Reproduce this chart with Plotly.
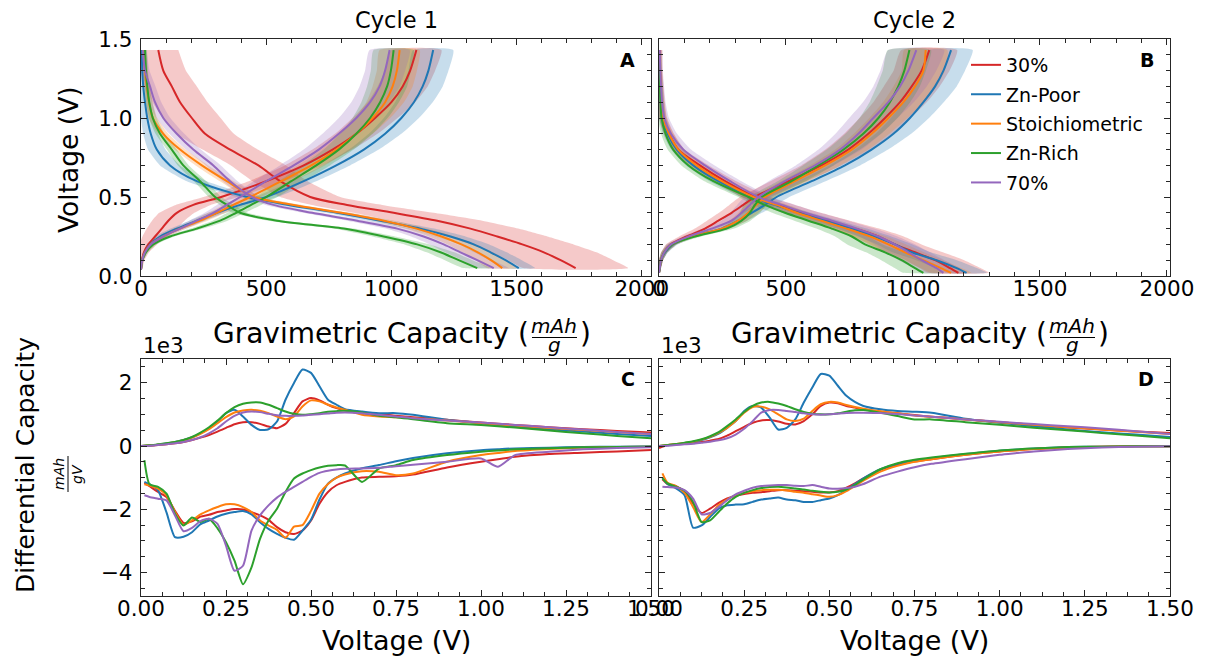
import plotly.graph_objects as go

W, H = 1209, 661
FONT = "DejaVu Sans"

SERIES = ["30%", "Zn-Poor", "Stoichiometric", "Zn-Rich", "70%"]
COLORS = ["#d62728", "#1f77b4", "#ff7f0e", "#2ca02c", "#9467bd"]

# ---------------- Cycle 1 voltage profiles (panel A) ----------------
C1_V_DIS = [1.43, 1.3, 1.2, 1.1, 1.0, 0.9, 0.8, 0.7, 0.6, 0.5, 0.45, 0.4, 0.35, 0.3, 0.25, 0.2, 0.15, 0.1, 0.05]
C1_CAP_DIS = {
    "30%":            [69, 89, 123, 156, 203, 256, 356, 469, 556, 676, 823, 1009, 1183, 1316, 1423, 1523, 1609, 1676, 1736],
    "Zn-Poor":        [3, 5, 9, 16, 25, 39, 63, 116, 223, 423, 589, 783, 956, 1116, 1236, 1329, 1396, 1456, 1509],
    "Stoichiometric": [9, 16, 23, 32, 47, 89, 156, 243, 343, 450, 610, 800, 970, 1100, 1200, 1280, 1345, 1398, 1443],
    "Zn-Rich":        [16, 20, 25, 33, 47, 76, 123, 169, 236, 296, 343, 396, 543, 809, 969, 1103, 1196, 1269, 1343],
    "70%":            [7, 16, 36, 56, 89, 143, 209, 289, 356, 443, 529, 683, 863, 1023, 1129, 1209, 1276, 1343, 1409],
}
C1_STD_DIS = {
    "30%":            [80, 90, 100, 110, 115, 115, 110, 110, 110, 120, 140, 160, 180, 190, 200, 205, 210, 210, 210],
    "Zn-Poor":        [10, 12, 15, 20, 25, 30, 35, 40, 40, 40, 40, 45, 50, 55, 60, 62, 65, 65, 65],
    "Stoichiometric": [10, 10, 12, 15, 18, 20, 22, 25, 28, 30, 32, 35, 40, 45, 50, 55, 60, 60, 60],
    "Zn-Rich":        [8, 8, 10, 12, 15, 18, 20, 22, 25, 25, 28, 30, 35, 40, 45, 50, 55, 55, 55],
    "70%":            [15, 18, 22, 25, 28, 30, 30, 30, 30, 30, 32, 35, 40, 45, 50, 55, 60, 60, 60],
}
C1_V_CH = [0.04, 0.1, 0.15, 0.2, 0.25, 0.3, 0.35, 0.4, 0.45, 0.5, 0.6, 0.7, 0.8, 0.9, 1.0, 1.1, 1.2, 1.3, 1.43]
C1_CAP_CH = {
    "30%":            [0, 4, 12, 29, 56, 83, 109, 143, 209, 320, 500, 650, 765, 860, 935, 1000, 1045, 1075, 1100],
    "Zn-Poor":        [0, 5, 16, 36, 76, 143, 223, 303, 396, 500, 650, 780, 890, 975, 1040, 1090, 1125, 1148, 1167],
    "Stoichiometric": [0, 5, 16, 39, 89, 156, 236, 303, 369, 436, 560, 680, 780, 860, 925, 975, 1005, 1022, 1033],
    "Zn-Rich":        [0, 5, 20, 49, 116, 223, 316, 380, 440, 500, 600, 700, 790, 860, 915, 955, 983, 998, 1009],
    "70%":            [0, 5, 16, 39, 89, 156, 223, 289, 343, 396, 500, 610, 710, 790, 860, 915, 953, 975, 993],
}
C1_STD_CH = {
    "30%":            [5, 10, 20, 35, 50, 60, 65, 70, 70, 70, 70, 75, 80, 85, 90, 95, 100, 100, 100],
    "Zn-Poor":        [3, 5, 8, 12, 18, 25, 30, 35, 40, 45, 50, 55, 60, 65, 70, 75, 80, 80, 80],
    "Stoichiometric": [3, 5, 8, 12, 18, 25, 30, 35, 40, 45, 50, 55, 60, 65, 70, 75, 80, 80, 80],
    "Zn-Rich":        [3, 5, 8, 12, 18, 25, 30, 35, 40, 45, 50, 55, 60, 65, 70, 75, 80, 80, 80],
    "70%":            [3, 5, 8, 12, 18, 25, 30, 35, 40, 45, 50, 55, 60, 65, 70, 75, 80, 80, 80],
}

# ---------------- Cycle 2 voltage profiles (panel B) ----------------
C2_V_DIS = [1.43, 1.3, 1.2, 1.1, 1.0, 0.9, 0.8, 0.7, 0.6, 0.5, 0.45, 0.4, 0.35, 0.3, 0.25, 0.2, 0.15, 0.1, 0.05, 0.02]
C2_CAP_DIS = {
    "30%":            [3, 4, 6, 9, 16, 39, 76, 161, 260, 378, 470, 562, 667, 772, 864, 929, 1008, 1087, 1146, 1179],
    "Zn-Poor":        [0, 3, 5, 8, 14, 34, 70, 135, 234, 365, 457, 549, 654, 759, 850, 929, 995, 1093, 1172, 1211],
    "Stoichiometric": [2, 4, 6, 9, 16, 39, 76, 148, 247, 372, 463, 542, 640, 739, 831, 903, 969, 1040, 1110, 1150],
    "Zn-Rich":        [0, 2, 4, 6, 10, 26, 56, 116, 214, 352, 417, 496, 588, 680, 759, 811, 890, 955, 1008, 1041],
    "70%":            [3, 5, 8, 12, 21, 47, 96, 181, 280, 391, 483, 575, 680, 778, 864, 929, 982, 1034, 1093, 1120],
}
C2_STD_DIS = {
    "30%":            [10, 10, 12, 14, 16, 20, 25, 35, 45, 55, 65, 75, 85, 95, 100, 105, 110, 115, 120, 120],
    "Zn-Poor":        [8, 8, 10, 12, 14, 18, 22, 28, 35, 40, 45, 50, 55, 60, 65, 70, 75, 80, 80, 80],
    "Stoichiometric": [8, 8, 10, 12, 14, 18, 22, 28, 35, 40, 45, 50, 55, 60, 65, 70, 75, 80, 80, 80],
    "Zn-Rich":        [8, 8, 10, 12, 14, 18, 22, 28, 35, 40, 45, 50, 55, 60, 65, 70, 75, 80, 80, 80],
    "70%":            [10, 10, 12, 14, 18, 24, 30, 38, 45, 50, 55, 60, 65, 70, 75, 80, 85, 90, 90, 90],
}
C2_V_CH = [0.02, 0.05, 0.1, 0.15, 0.2, 0.25, 0.3, 0.35, 0.4, 0.45, 0.5, 0.6, 0.7, 0.8, 0.9, 1.0, 1.1, 1.2, 1.3, 1.43]
C2_CAP_CH = {
    "30%":            [0, 3, 8, 21, 47, 109, 181, 234, 286, 332, 378, 509, 640, 745, 824, 890, 949, 995, 1034, 1064],
    "Zn-Poor":        [0, 3, 8, 24, 56, 129, 247, 312, 365, 417, 463, 601, 732, 837, 923, 988, 1041, 1087, 1120, 1150],
    "Stoichiometric": [0, 3, 8, 21, 52, 129, 247, 312, 352, 384, 417, 535, 654, 759, 837, 903, 962, 1008, 1041, 1050],
    "Zn-Rich":        [0, 3, 8, 21, 52, 142, 266, 325, 358, 378, 404, 522, 627, 726, 804, 864, 909, 942, 966, 986],
    "70%":            [0, 3, 8, 21, 47, 116, 207, 286, 325, 358, 391, 496, 614, 713, 785, 844, 903, 949, 982, 1013],
}
C2_STD_CH = {
    "30%":            [3, 5, 8, 12, 20, 30, 40, 45, 50, 55, 60, 70, 80, 90, 95, 100, 105, 110, 110, 110],
    "Zn-Poor":        [3, 5, 8, 12, 18, 25, 30, 35, 40, 45, 50, 55, 60, 65, 70, 75, 80, 85, 85, 85],
    "Stoichiometric": [3, 5, 8, 12, 18, 25, 30, 35, 40, 45, 50, 55, 60, 65, 70, 75, 80, 85, 85, 85],
    "Zn-Rich":        [3, 5, 8, 12, 18, 25, 30, 35, 40, 45, 50, 55, 60, 65, 70, 75, 80, 85, 85, 85],
    "70%":            [3, 5, 8, 12, 18, 25, 35, 40, 45, 50, 55, 65, 75, 85, 90, 95, 100, 105, 110, 110],
}

# ---------------- Differential capacity (panels C, D) ----------------
DQ_V_UP = [0.0, 0.025, 0.05, 0.075, 0.1, 0.125, 0.15, 0.175, 0.2, 0.225, 0.25, 0.275, 0.3, 0.325,
           0.35, 0.375, 0.4, 0.425, 0.45, 0.475, 0.5, 0.525, 0.55, 0.575, 0.6, 0.65, 0.7, 0.75, 0.8,
           0.9, 1.0, 1.1, 1.2, 1.3, 1.4, 1.5]
DQ_V_DOWN = [0.01, 0.025, 0.05, 0.075, 0.1, 0.125, 0.15, 0.175, 0.2, 0.225, 0.25, 0.275, 0.3, 0.325,
             0.35, 0.375, 0.4, 0.425, 0.45, 0.475, 0.5, 0.525, 0.55, 0.575, 0.6, 0.65, 0.7, 0.75, 0.8,
             0.9, 1.0, 1.05, 1.1, 1.2, 1.3, 1.4, 1.5]

C1_DQ_UP = {
    "30%":            [0, 11, 32, 53, 85, 127, 191, 265, 350, 456, 572, 689, 753, 753, 700, 615, 562, 700, 1039, 1410, 1516, 1442, 1304, 1198, 1124, 1039, 1007, 954, 912, 827, 742, 668, 594, 530, 477, 424],
    "Zn-Poor":        [0, 21, 42, 85, 127, 191, 276, 403, 562, 774, 1039, 1145, 933, 668, 509, 530, 774, 1463, 1993, 2417, 2311, 1887, 1463, 1304, 1166, 1092, 1039, 1039, 986, 827, 721, 615, 530, 456, 382, 318],
    "Stoichiometric": [0, 21, 42, 74, 117, 180, 265, 382, 530, 721, 912, 1060, 1124, 1145, 1113, 1039, 933, 848, 933, 1251, 1442, 1410, 1304, 1219, 1145, 986, 933, 912, 880, 806, 721, 647, 572, 509, 445, 382],
    "Zn-Rich":        [0, 21, 53, 85, 127, 191, 286, 424, 594, 806, 1039, 1230, 1336, 1378, 1378, 1304, 1198, 1092, 1018, 986, 1007, 1039, 1081, 1102, 1113, 1060, 954, 912, 848, 721, 668, 583, 488, 403, 318, 244],
    "70%":            [0, 11, 32, 53, 85, 127, 191, 276, 403, 562, 774, 954, 1060, 1092, 1071, 1018, 975, 954, 954, 965, 986, 1007, 1028, 1049, 1060, 1039, 986, 933, 880, 806, 742, 668, 594, 519, 445, 382],
}
C1_DQ_DOWN = {
    "30%":            [-1166, -1272, -1452, -1611, -2050, -2430, -2380, -2230, -2173, -2088, -2035, -1993, -2003, -2088, -2194, -2332, -2565, -2724, -2777, -2671, -2353, -1823, -1452, -1240, -1134, -996, -975, -954, -901, -678, -498, -420, -339, -254, -212, -170, -127],
    "Zn-Poor":        [-1134, -1208, -1399, -2100, -2880, -2870, -2724, -2470, -2353, -2226, -2141, -2088, -2056, -2162, -2406, -2618, -2777, -2900, -2960, -2671, -2330, -1690, -1187, -996, -869, -700, -600, -480, -380, -230, -130, -100, -75, -53, -32, -21, -11],
    "Stoichiometric": [-1208, -1251, -1346, -1558, -2088, -2491, -2353, -2162, -2035, -1929, -1844, -1844, -1929, -2088, -2353, -2512, -2650, -2900, -2550, -2500, -2050, -1505, -1200, -1000, -900, -795, -816, -922, -869, -498, -286, -220, -159, -95, -53, -32, -21],
    "Zn-Rich":        [-445, -1208, -1293, -1505, -2141, -2512, -2260, -2400, -2300, -2600, -3042, -3625, -4367, -3837, -2936, -2353, -1982, -1452, -1028, -869, -763, -678, -625, -604, -615, -1134, -710, -604, -445, -286, -180, -140, -106, -74, -42, -32, -21],
    "70%":            [-1558, -1611, -1664, -1717, -2194, -2692, -2586, -2374, -2300, -2459, -3148, -3943, -3784, -2671, -2194, -1876, -1632, -1452, -1293, -1134, -975, -848, -784, -742, -721, -710, -689, -636, -594, -498, -392, -657, -286, -180, -106, -64, -42],
}
C2_DQ_UP = {
    "30%":            [-64, 32, 53, 74, 96, 128, 170, 223, 330, 468, 606, 734, 809, 819, 777, 702, 681, 787, 1000, 1266, 1373, 1351, 1266, 1213, 1160, 1085, 1032, 979, 926, 841, 755, 670, 585, 521, 458, 415],
    "Zn-Poor":        [0, 21, 53, 85, 128, 191, 277, 394, 575, 787, 1106, 1266, 1213, 894, 521, 575, 840, 1373, 1851, 2277, 2224, 1905, 1585, 1394, 1266, 1160, 1107, 1085, 1053, 862, 734, 628, 521, 436, 362, 287],
    "Stoichiometric": [0, 32, 64, 96, 138, 202, 287, 415, 575, 787, 1053, 1234, 1245, 1160, 1000, 840, 787, 862, 1107, 1320, 1394, 1373, 1298, 1234, 1181, 1096, 1032, 968, 926, 841, 755, 670, 596, 521, 447, 383],
    "Zn-Rich":        [0, 32, 64, 106, 149, 213, 309, 436, 628, 840, 1075, 1266, 1373, 1394, 1341, 1266, 1160, 1075, 1022, 1000, 1000, 1032, 1085, 1128, 1138, 1053, 947, 841, 841, 755, 670, 575, 500, 415, 330, 245],
    "70%":            [0, 11, 32, 53, 74, 106, 138, 181, 245, 362, 543, 787, 1053, 1138, 1138, 1107, 1075, 1032, 1000, 990, 1000, 1022, 1043, 1053, 1053, 1043, 1011, 968, 926, 841, 766, 692, 628, 553, 468, 383],
}
C2_DQ_DOWN = {
    "30%":            [-1053, -1202, -1266, -1447, -1819, -2117, -1979, -1798, -1660, -1575, -1521, -1479, -1458, -1426, -1394, -1394, -1415, -1426, -1447, -1468, -1468, -1426, -1319, -1181, -1021, -755, -596, -489, -415, -277, -170, -133, -96, -43, -21, -11, -11],
    "Zn-Poor":        [-990, -1202, -1341, -1553, -2580, -2511, -2245, -1979, -1873, -1851, -1841, -1766, -1692, -1660, -1628, -1692, -1713, -1766, -1766, -1713, -1660, -1553, -1394, -1202, -1021, -734, -564, -458, -383, -255, -149, -112, -75, -32, -21, -11, -11],
    "Stoichiometric": [-862, -1160, -1266, -1479, -1926, -2405, -2160, -1873, -1692, -1553, -1479, -1426, -1394, -1383, -1383, -1404, -1447, -1479, -1521, -1564, -1607, -1553, -1426, -1266, -1096, -809, -628, -500, -415, -277, -170, -133, -96, -43, -21, -11, -11],
    "Zn-Rich":        [-1021, -1181, -1287, -1415, -1766, -2405, -2351, -2085, -1819, -1607, -1479, -1394, -1330, -1298, -1287, -1309, -1341, -1373, -1415, -1447, -1468, -1447, -1373, -1234, -1053, -734, -543, -436, -362, -245, -138, -107, -75, -32, -21, -11, -11],
    "70%":            [-1287, -1298, -1309, -1394, -1660, -2160, -2117, -1926, -1713, -1532, -1415, -1319, -1266, -1245, -1234, -1234, -1256, -1266, -1234, -1287, -1341, -1351, -1330, -1287, -1202, -968, -809, -670, -564, -415, -277, -223, -170, -96, -43, -21, -11],
}

# ---------------- axis ticks ----------------
CAP_TICKS = [0, 500, 1000, 1500, 2000]
VOLT_TICKS = [0.0, 0.5, 1.0, 1.5]
DQ_X_TICKS = [0.0, 0.25, 0.5, 0.75, 1.0, 1.25, 1.5]
DQ_Y_TICKS = [-4000, -2000, 0, 2000]
DQ_Y_LABELS = ["\u22124", "\u22122", "0", "2"]


def rgba(hex_color, a):
    h = hex_color.lstrip("#")
    return "rgba(%d,%d,%d,%s)" % (int(h[0:2], 16), int(h[2:4], 16), int(h[4:6], 16), a)


def px(x):
    return x / W


def py(y):
    return 1 - y / H


fig = go.Figure()

profile_panels = [
    ("x", "y", C1_V_DIS, C1_CAP_DIS, C1_STD_DIS, C1_V_CH, C1_CAP_CH, C1_STD_CH),
    ("x2", "y2", C2_V_DIS, C2_CAP_DIS, C2_STD_DIS, C2_V_CH, C2_CAP_CH, C2_STD_CH),
]
for xa, ya, vdis, cdis, sdis, vch, cch, sch in profile_panels:
    for name, col in zip(SERIES, COLORS):
        for v, cap, sd in ((vdis, cdis[name], sdis[name]), (vch, cch[name], sch[name])):
            lo = [c - s for c, s in zip(cap, sd)]
            hi = [c + s for c, s in zip(cap, sd)]
            fig.add_trace(go.Scatter(
                x=lo + hi[::-1], y=list(v) + list(v)[::-1], xaxis=xa, yaxis=ya,
                mode="lines", fill="toself", fillcolor=rgba(col, 0.25),
                line=dict(width=0, shape="spline", smoothing=0.5), hoverinfo="skip",
                showlegend=False, legendgroup=name))
    for name, col in zip(SERIES, COLORS):
        for i, (v, cap) in enumerate(((vdis, cdis[name]), (vch, cch[name]))):
            fig.add_trace(go.Scatter(
                x=cap, y=v, xaxis=xa, yaxis=ya, mode="lines", name=name,
                line=dict(color=col, width=2, shape="spline", smoothing=0.8),
                legendgroup=name, showlegend=(xa == "x2" and i == 0)))

dq_panels = [("x3", "y3", C1_DQ_UP, C1_DQ_DOWN), ("x4", "y4", C2_DQ_UP, C2_DQ_DOWN)]
for xa, ya, up, down in dq_panels:
    for name, col in zip(SERIES, COLORS):
        for v, vals in ((DQ_V_UP, up[name]), (DQ_V_DOWN, down[name])):
            fig.add_trace(go.Scatter(
                x=v, y=vals, xaxis=xa, yaxis=ya, mode="lines", name=name,
                line=dict(color=col, width=2, shape="spline", smoothing=0.6),
                legendgroup=name, showlegend=False))

AXC = "#262626"


def minor(dtick):
    return dict(ticks="inside", ticklen=3.5, tickwidth=1, tickcolor=AXC, dtick=dtick, tick0=0, showgrid=False)


def axis(**kw):
    base = dict(showline=True, linecolor=AXC, linewidth=1.3, mirror="allticks",
                ticks="inside", ticklen=6, tickwidth=1.3, tickcolor=AXC,
                showgrid=False, zeroline=False, automargin=False,
                tickfont=dict(family=FONT, size=21.5, color="black"))
    base.update(kw)
    return base


COL1 = [px(141), px(651)]
COL2 = [px(659), px(1170)]
ROW1 = [py(276), py(39)]
ROW2 = [py(596), py(359)]

XSTAND = -7
YSTAND = 3

layout = dict(
    width=W, height=H, margin=dict(l=0, r=0, t=0, b=0, pad=0, autoexpand=False),
    paper_bgcolor="white", plot_bgcolor="white",
    font=dict(family=FONT, color="black"),
    xaxis=axis(domain=COL1, anchor="y", range=[0, 2037], tickvals=CAP_TICKS,
               ticktext=[str(t) for t in CAP_TICKS], ticklabelstandoff=XSTAND, minor=minor(100)),
    yaxis=axis(domain=ROW1, anchor="x", range=[0, 1.5], tickvals=VOLT_TICKS,
               ticktext=["%.1f" % t for t in VOLT_TICKS], ticklabelstandoff=YSTAND, minor=minor(0.1)),
    xaxis2=axis(domain=COL2, anchor="y2", range=[0, 2012], tickvals=CAP_TICKS,
                ticktext=[str(t) for t in CAP_TICKS], ticklabelstandoff=XSTAND, minor=minor(100)),
    yaxis2=axis(domain=ROW1, anchor="x2", range=[0, 1.5], tickvals=VOLT_TICKS,
                showticklabels=False, minor=minor(0.1)),
    xaxis3=axis(domain=COL1, anchor="y3", range=[0, 1.5], tickvals=DQ_X_TICKS,
                ticktext=["%.2f" % t for t in DQ_X_TICKS], ticklabelstandoff=XSTAND, minor=minor(0.0625)),
    yaxis3=axis(domain=ROW2, anchor="x3", range=[-4740, 2750], tickvals=DQ_Y_TICKS,
                ticktext=DQ_Y_LABELS, ticklabelstandoff=YSTAND, minor=minor(500)),
    xaxis4=axis(domain=COL2, anchor="y4", range=[0, 1.5], tickvals=DQ_X_TICKS,
                ticktext=["%.2f" % t for t in DQ_X_TICKS], ticklabelstandoff=XSTAND, minor=minor(0.0625)),
    yaxis4=axis(domain=ROW2, anchor="x4", range=[-4740, 2750], tickvals=DQ_Y_TICKS,
                showticklabels=False, minor=minor(500)),
    legend=dict(x=px(966), y=py(46), xanchor="left", yanchor="top", bgcolor="rgba(0,0,0,0)",
                font=dict(family=FONT, size=19, color="black"), tracegroupgap=1.7, borderwidth=0),
    showlegend=True,
)
fig.update_layout(**layout)

ann = []


def text(t, x, y, size, xanchor="center", yanchor="middle", angle=0):
    ann.append(dict(text=t, x=px(x), y=py(y), xref="paper", yref="paper", showarrow=False,
                    xanchor=xanchor, yanchor=yanchor, textangle=angle,
                    font=dict(family=FONT, size=size, color="black")))


text("Cycle 1", 396, 20, 22.5)
text("Cycle 2", 914.5, 20, 22.5)
for lab, xr, yc in (("A", 637, 60), ("B", 1156, 60), ("C", 637, 379), ("D", 1156, 379)):
    text("<b>%s</b>" % lab, xr, yc, 19, xanchor="right")
text("1e3", 141, 345, 21.5, xanchor="left")
text("1e3", 659, 345, 21.5, xanchor="left")
shapes = []
for dx in (0, 518):
    text("Gravimetric Capacity (", 531 + dx, 333, 28, xanchor="right")
    text("<i>mAh</i>", 554 + dx, 326, 20)
    text("<i>g</i>", 554 + dx, 345, 20)
    text(")", 578 + dx, 333, 28, xanchor="left")
    shapes.append(dict(type="line", xref="paper", yref="paper", x0=px(532 + dx), x1=px(577 + dx),
                       y0=py(337.5), y1=py(337.5), line=dict(color="black", width=1.2)))
text("Voltage (V)", 396, 640, 27)
text("Voltage (V)", 914.5, 640, 27)
text("Voltage (V)", 68, 160, 26.5, angle=-90)
text("Differential Capacity", 25, 465, 25, angle=-90)
text("<i>mAh</i>", 59, 474, 14, angle=-90)
text("<i>gV</i>", 77, 474, 14, angle=-90)
shapes.append(dict(type="line", xref="paper", yref="paper", x0=px(68), x1=px(68),
                   y0=py(456), y1=py(492), line=dict(color="black", width=1)))

fig.update_layout(annotations=ann, shapes=shapes)
fig.write_html("out.html")
